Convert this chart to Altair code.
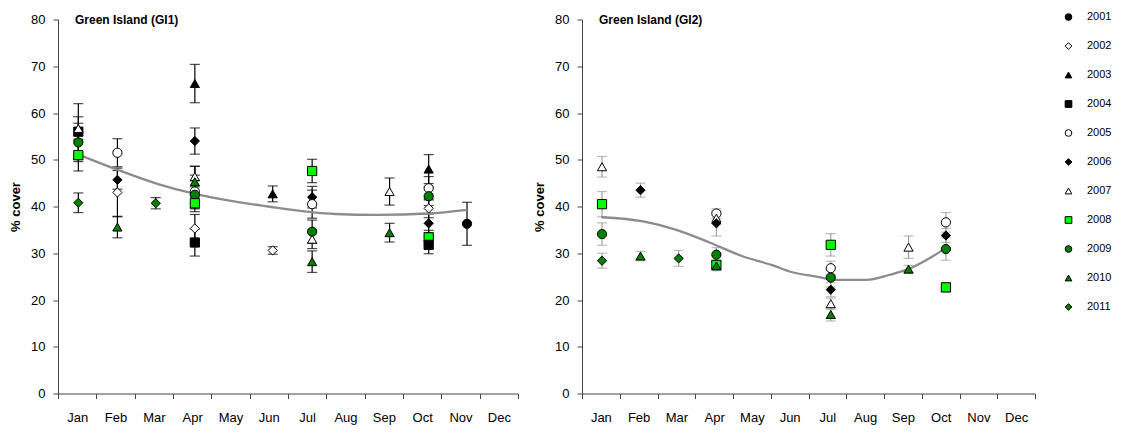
import altair as alt
import pandas as pd

MONTHS = ["Jan", "Feb", "Mar", "Apr", "May", "Jun", "Jul", "Aug", "Sep", "Oct", "Nov", "Dec"]
YEARS = ["2001", "2002", "2003", "2004", "2005", "2006", "2007", "2008", "2009", "2010", "2011"]
SHAPES = ["circle", "diamond", "triangle-up", "square", "circle", "diamond",
          "triangle-up", "square", "circle", "triangle-up", "diamond"]
FILLS = ["#000000", "#ffffff", "#000000", "#000000", "#ffffff", "#000000",
         "#ffffff", "#00ff00", "#008000", "#008000", "#008000"]
STROKES = ["#000000"] * 11
TITLES = ["Green Island (GI1)", "Green Island (GI2)"]

# ---- GI1 ----
gi1_year = ["2004", "2007", "2009", "2008", "2011",
            "2005", "2006", "2002", "2010",
            "2011",
            "2003", "2006", "2007", "2010", "2005", "2009", "2008", "2002", "2004",
            "2003", "2002",
            "2008", "2006", "2005", "2009", "2007", "2010",
            "2007", "2010",
            "2003", "2005", "2009", "2002", "2006", "2008", "2004",
            "2001"]
gi1_month = [0.53, 0.53, 0.53, 0.53, 0.53,
             1.55, 1.55, 1.55, 1.55,
             2.55,
             3.57, 3.57, 3.57, 3.57, 3.57, 3.57, 3.57, 3.57, 3.57,
             5.60, 5.60,
             6.63, 6.63, 6.63, 6.63, 6.63, 6.63,
             8.65, 8.65,
             9.67, 9.67, 9.67, 9.67, 9.67, 9.67, 9.67,
             10.67]
gi1_mean = [56.0, 56.7, 53.7, 51.0, 40.8,
            51.5, 45.7, 43.0, 35.6,
            40.7,
            66.3, 54.0, 46.4, 45.3, 43.2, 42.5, 40.7, 35.3, 32.3,
            42.7, 30.6,
            47.6, 42.0, 40.5, 34.6, 33.0, 28.2,
            43.2, 34.4,
            48.0, 43.9, 42.2, 39.6, 36.4, 33.4, 31.8,
            36.3]
gi1_se = [6.0, 2.5, 4.1, 3.4, 2.1,
          3.0, 2.0, 5.2, 2.3,
          1.2,
          4.1, 2.8, 2.2, 3.3, 3.5, 3.0, 1.8, 3.0, 2.9,
          1.7, 0.8,
          2.5, 2.3, 3.0, 2.5, 2.0, 2.3,
          2.9, 2.0,
          3.1, 2.5, 2.0, 2.0, 2.0, 1.5, 1.9,
          4.6]
gi1_trend_month = [0.57, 1.57, 2.61, 3.47, 4.36, 5.48, 6.60, 7.23, 8.35, 9.65, 10.67]
gi1_trend_value = [51.0, 47.8, 44.8, 42.9, 41.4, 40.0, 38.8, 38.4, 38.2, 38.5, 39.3]

# ---- GI2 ----
gi2_year = ["2007", "2008", "2009", "2011",
            "2006", "2010",
            "2011",
            "2005", "2007", "2006", "2009", "2008", "2010",
            "2008", "2005", "2009", "2006", "2007", "2010",
            "2007", "2010",
            "2005", "2006", "2009", "2008"]
gi2_month = [0.53, 0.53, 0.53, 0.53,
             1.55, 1.55,
             2.56,
             3.56, 3.56, 3.56, 3.56, 3.56, 3.56,
             6.59, 6.59, 6.59, 6.59, 6.59, 6.59,
             8.65, 8.65,
             9.64, 9.64, 9.64, 9.64]
gi2_mean = [48.5, 40.5, 34.1, 28.4,
            43.5, 29.4,
            28.9,
            38.5, 37.5, 36.4, 29.7, 27.5, 27.3,
            31.8, 26.8, 24.8, 22.2, 19.2, 16.9,
            31.3, 26.6,
            36.6, 33.8, 30.9, 22.7]
gi2_se = [2.2, 2.7, 2.4, 1.6,
          1.5, 1.0,
          1.7,
          1.0, 1.2, 2.7, 1.5, 1.0, 1.0,
          2.4, 1.5, 2.0, 1.5, 1.2, 1.4,
          2.4, 0.8,
          2.1, 1.5, 2.4, 1.0]
gi2_trend_month = [0.51, 1.62, 2.50, 3.38, 4.27, 5.06, 5.50, 6.21, 6.74, 7.54, 8.15, 8.64, 9.13, 9.64]
gi2_trend_value = [37.7, 36.8, 35.0, 32.3, 29.3, 27.4, 26.1, 25.0, 24.3, 24.3, 25.4, 26.6, 28.6, 31.1]

FONT = "Liberation Sans"
HEIGHT = 374


def panel(title, years, months, means, ses, tm, tv, width, errcolor):
    df = pd.DataFrame({"year": years, "m": months, "v": means, "se": ses})
    df["lo"] = df["v"] - df["se"]
    df["hi"] = df["v"] + df["se"]
    tr = pd.DataFrame({"m": tm, "v": tv})
    tt = pd.DataFrame({"t": [title]})

    label_expr = "datum.value >= 1 ? " + str(MONTHS) + "[datum.value - 1] : ''"
    xaxis = alt.Axis(values=list(range(13)), labelExpr=label_expr, labelOffset=-width / 24.0,
                     tickSize=5, grid=False, title=None, labelPadding=13,
                     labelFlush=False, labelOverlap=False, labelBound=False,
                     domainColor="#444444", tickColor="#444444", labelFontSize=13,
                     labelFont=FONT, labelColor="#000000")
    yaxis = alt.Axis(values=list(range(0, 81, 10)), grid=False, title="% cover",
                     titleFontWeight="bold", titleFontSize=13, titleFont=FONT,
                     titleColor="#000000", titlePadding=8, tickSize=5, labelPadding=8,
                     domainColor="#444444", tickColor="#444444", labelFontSize=13,
                     labelFont=FONT, labelColor="#000000", labelOverlap=False)
    xs = alt.Scale(domain=[0, 12], nice=False, zero=False)
    ys = alt.Scale(domain=[0, 80], nice=False)
    X = lambda f: alt.X(f, type="quantitative", scale=xs, axis=xaxis)
    Y = lambda f: alt.Y(f, type="quantitative", scale=ys, axis=yaxis)

    base = alt.Chart(df)
    rules = base.mark_rule(color=errcolor, strokeWidth=1.2).encode(
        x=X("m"), y=Y("lo"), y2="hi:Q")
    caplo = base.mark_tick(color=errcolor, orient="horizontal", size=10, thickness=1.2).encode(
        x=X("m"), y=Y("lo"))
    caphi = base.mark_tick(color=errcolor, orient="horizontal", size=10, thickness=1.2).encode(
        x=X("m"), y=Y("hi"))
    line = alt.Chart(tr).mark_line(color="#8c8c8c", strokeWidth=2.3, interpolate="monotone").encode(
        x=X("m"), y=Y("v"))
    pts = base.mark_point(filled=True, size=85, strokeWidth=1, opacity=1, fillOpacity=1).encode(
        x=X("m"), y=Y("v"),
        shape=alt.Shape("year:N", scale=alt.Scale(domain=YEARS, range=SHAPES), title=None),
        fill=alt.Fill("year:N", scale=alt.Scale(domain=YEARS, range=FILLS), title=None),
        stroke=alt.Stroke("year:N", scale=alt.Scale(domain=YEARS, range=STROKES), title=None),
    )
    ttl = alt.Chart(tt).mark_text(align="left", baseline="middle", fontWeight="bold",
                                  fontSize=12, font=FONT, color="#000000").encode(
        x=alt.value(17), y=alt.value(0), text="t:N")
    return alt.layer(rules, caplo, caphi, line, pts, ttl).properties(width=width, height=HEIGHT)


left = panel(TITLES[0], gi1_year, gi1_month, gi1_mean, gi1_se,
             gi1_trend_month, gi1_trend_value, 460, "#000000")
right = panel(TITLES[1], gi2_year, gi2_month, gi2_mean, gi2_se,
              gi2_trend_month, gi2_trend_value, 453, "#a0a0a0")

chart = alt.hconcat(left, right, spacing=14).resolve_scale(
    shape="shared", fill="shared", stroke="shared"
).properties(
    padding={"left": 1, "top": 5.5, "right": 10, "bottom": 0}
).configure_view(stroke=None).configure_axis(labelOverlap=False).configure_legend(
    orient="right", offset=35, padding=-8, symbolSize=45, symbolStrokeWidth=1,
    labelFontSize=11, labelFont=FONT, labelColor="#000000",
    rowPadding=17, labelOffset=13
)

chart.save("out.html", embed_options={"renderer": "svg", "actions": False})
